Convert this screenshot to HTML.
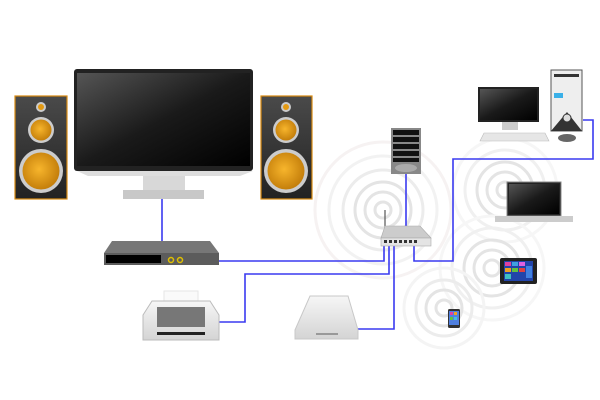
<!DOCTYPE html>
<html><head><style>body{margin:0;background:#fff}svg{display:block}</style></head><body>
<svg width="600" height="400" viewBox="0 0 600 400" xmlns="http://www.w3.org/2000/svg">
<defs>
<radialGradient id="cone" cx="0.45" cy="0.45" r="0.6"><stop offset="0" stop-color="#f7b52c"/><stop offset="1" stop-color="#c07a08"/></radialGradient>
<linearGradient id="scr" x1="0" y1="0" x2="1" y2="1"><stop offset="0" stop-color="#555"/><stop offset="0.5" stop-color="#1a1a1a"/><stop offset="1" stop-color="#000"/></linearGradient>
<linearGradient id="spk" x1="0" y1="0" x2="0" y2="1"><stop offset="0" stop-color="#4a4a4a"/><stop offset="1" stop-color="#222"/></linearGradient>
<linearGradient id="wh" x1="0" y1="0" x2="0" y2="1"><stop offset="0" stop-color="#f6f6f6"/><stop offset="1" stop-color="#d4d4d4"/></linearGradient>
</defs>
<g fill="none" stroke="#e4e4e4" stroke-width="3">
<circle cx="383" cy="210" r="8"/><circle cx="383" cy="210" r="18"/><circle cx="383" cy="210" r="28"/><circle cx="383" cy="210" r="40" stroke="#ececec"/><circle cx="383" cy="210" r="54" stroke="#f2f2f2"/><circle cx="383" cy="210" r="68" stroke="#f6f2f2"/>
<circle cx="505" cy="190" r="8"/><circle cx="505" cy="190" r="18"/><circle cx="505" cy="190" r="28"/><circle cx="505" cy="190" r="40" stroke="#f0f0f0"/><circle cx="505" cy="190" r="52" stroke="#f6f6f6"/>
<circle cx="492" cy="268" r="8"/><circle cx="492" cy="268" r="18"/><circle cx="492" cy="268" r="28"/><circle cx="492" cy="268" r="40" stroke="#f0f0f0"/><circle cx="492" cy="268" r="52" stroke="#f6f6f6"/>
<circle cx="444" cy="308" r="8"/><circle cx="444" cy="308" r="18"/><circle cx="444" cy="308" r="28" stroke="#ececec"/><circle cx="444" cy="308" r="40" stroke="#f4f4f4"/>
</g>
<g fill="none" stroke="#3a3af0" stroke-width="1.6">
<path d="M162 199V241"/>
<path d="M219 261H384V246"/>
<path d="M218 322H245V274H389V246"/>
<path d="M358 329H394V246"/>
<path d="M406 174V227"/>
<path d="M414 246V261H453V159H593V120H583"/>
</g>
<!-- speakers -->
<g>
<rect x="15" y="96" width="52" height="103" fill="url(#spk)" stroke="#d88a10" stroke-width="1.2"/>
<circle cx="41" cy="107" r="5" fill="#ccc"/><circle cx="41" cy="107" r="3" fill="#e49a12"/>
<circle cx="41" cy="130" r="13" fill="#ccc"/><circle cx="41" cy="130" r="10.5" fill="url(#cone)"/>
<circle cx="41" cy="171" r="22" fill="#ccc"/><circle cx="41" cy="171" r="18.5" fill="url(#cone)"/>
<rect x="261" y="96" width="51" height="103" fill="url(#spk)" stroke="#d88a10" stroke-width="1.2"/>
<circle cx="286" cy="107" r="5" fill="#ccc"/><circle cx="286" cy="107" r="3" fill="#e49a12"/>
<circle cx="286" cy="130" r="13" fill="#ccc"/><circle cx="286" cy="130" r="10.5" fill="url(#cone)"/>
<circle cx="286" cy="171" r="22" fill="#ccc"/><circle cx="286" cy="171" r="18.5" fill="url(#cone)"/>
</g>
<!-- TV -->
<rect x="74" y="69" width="179" height="102" rx="3" fill="#222"/>
<rect x="77" y="73" width="173" height="93" fill="url(#scr)"/>
<path d="M77 171H253L240 176H88Z" fill="#ddd"/>
<rect x="143" y="176" width="42" height="14" fill="#d8d8d8"/>
<rect x="123" y="190" width="81" height="9" fill="#c8c8c8"/>
<!-- receiver -->
<path d="M112 241H210L219 253H104Z" fill="#777"/>
<rect x="104" y="253" width="115" height="12" fill="#5c5c5c"/>
<rect x="106" y="255" width="55" height="8" fill="#000"/>
<circle cx="171" cy="260" r="2.5" fill="none" stroke="#e0c000" stroke-width="1.5"/>
<circle cx="180" cy="260" r="2.5" fill="none" stroke="#e0c000" stroke-width="1.5"/>
<!-- printer -->
<rect x="164" y="291" width="34" height="10" fill="#fafafa" stroke="#e6e6e6"/>
<path d="M152 301H210L219 315V340H143V315Z" fill="url(#wh)" stroke="#bbb"/>
<rect x="157" y="307" width="48" height="20" fill="#777"/>
<rect x="157" y="332" width="48" height="3" fill="#222"/>
<!-- drive -->
<path d="M310 296H348L358 330V339H295V330Z" fill="url(#wh)" stroke="#c8c8c8"/>
<rect x="316" y="333" width="22" height="2" fill="#999"/>
<!-- server -->
<rect x="391" y="128" width="30" height="46" fill="#888"/>
<g fill="#111"><rect x="393" y="130" width="26" height="5"/><rect x="393" y="137" width="26" height="5"/><rect x="393" y="144" width="26" height="5"/><rect x="393" y="151" width="26" height="5"/><rect x="393" y="158" width="26" height="4"/></g>
<ellipse cx="406" cy="168" rx="11" ry="4" fill="#aaa"/>
<!-- router -->
<line x1="385" y1="210" x2="385" y2="228" stroke="#555" stroke-width="1.2"/>
<path d="M385 226H420L431 238H381Z" fill="#ccc" stroke="#aaa" stroke-width="0.6"/>
<rect x="381" y="238" width="50" height="8" fill="#e4e4e4" stroke="#aaa" stroke-width="0.6"/>
<g fill="#333"><rect x="384" y="240" width="3" height="3"/><rect x="389" y="240" width="3" height="3"/><rect x="394" y="240" width="3" height="3"/><rect x="399" y="240" width="3" height="3"/><rect x="404" y="240" width="3" height="3"/><rect x="409" y="240" width="3" height="3"/><rect x="414" y="240" width="3" height="3"/></g>
<!-- desktop -->
<rect x="478" y="87" width="61" height="35" fill="#222"/>
<rect x="480" y="89" width="57" height="31" fill="url(#scr)"/>
<rect x="502" y="122" width="16" height="8" fill="#ccc"/>
<path d="M484 133H545L549 141H480Z" fill="#e6e6e6" stroke="#bbb" stroke-width="0.6"/>
<rect x="551" y="70" width="31" height="61" fill="#eee" stroke="#555"/>
<rect x="554" y="74" width="25" height="3" fill="#333"/>
<rect x="554" y="93" width="9" height="5" fill="#3ab0e8"/>
<path d="M551 131L567 112L582 131Z" fill="#333"/>
<circle cx="567" cy="118" r="4" fill="#ddd" stroke="#333"/>
<ellipse cx="567" cy="138" rx="9" ry="4" fill="#666"/>
<!-- laptop -->
<rect x="507" y="182" width="54" height="34" fill="#222" stroke="#888"/>
<rect x="509" y="184" width="50" height="30" fill="url(#scr)"/>
<rect x="495" y="216" width="78" height="6" fill="#ccc"/>
<!-- tablet -->
<rect x="500" y="258" width="37" height="26" rx="2" fill="#222"/>
<rect x="504" y="261" width="29" height="20" fill="#2244aa"/>
<g><rect x="505" y="262" width="6" height="4" fill="#e040a0"/><rect x="512" y="262" width="6" height="4" fill="#40a0e0"/><rect x="519" y="262" width="6" height="4" fill="#e060e0"/><rect x="505" y="268" width="6" height="4" fill="#f0a020"/><rect x="512" y="268" width="6" height="4" fill="#60c040"/><rect x="519" y="268" width="6" height="4" fill="#e04040"/><rect x="505" y="274" width="6" height="5" fill="#40c0c0"/><rect x="526" y="266" width="6" height="12" fill="#4080e0"/></g>
<!-- phone -->
<rect x="448" y="309" width="12" height="19" rx="1.5" fill="#333"/>
<rect x="449" y="311" width="10" height="14" fill="#5080e0"/>
<rect x="450" y="312" width="3" height="3" fill="#e040a0"/><rect x="454" y="312" width="3" height="3" fill="#f0a020"/><rect x="450" y="317" width="3" height="3" fill="#60c040"/><rect x="454" y="317" width="3" height="3" fill="#40c0e0"/>
</svg>
</body></html>
